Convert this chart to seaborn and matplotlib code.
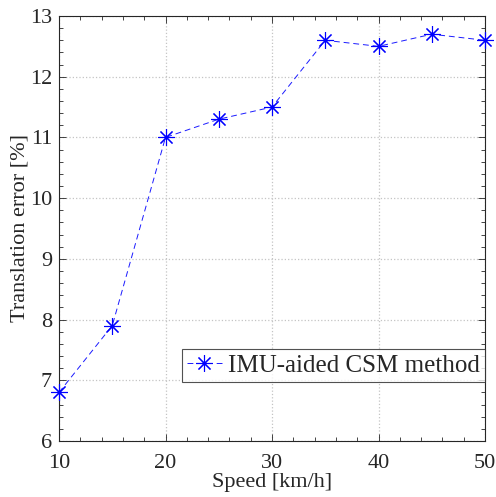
import matplotlib
matplotlib.use("Agg")
import matplotlib.pyplot as plt
import seaborn as sns
import pandas as pd
from matplotlib.ticker import MultipleLocator

speed = [10, 15, 20, 25, 30, 35, 40, 45, 50]
error = [6.8, 7.9, 11.0, 11.3, 11.5, 12.6, 12.5, 12.7, 12.6]
series_name = "IMU-aided CSM method"

sns.set_theme(style="white")
plt.rcParams['font.family'] = ['Liberation Serif', 'DejaVu Serif']

df = pd.DataFrame({"Speed": speed, "Error": error})

fig = plt.figure(figsize=(4.96, 4.97), dpi=100)
ax = fig.add_axes([59/496, 1 - 441/497, (485-59)/496, (441-16)/497])

sns.lineplot(data=df, x="Speed", y="Error", ax=ax, color="#1a1aff",
             linestyle=(0, (6, 4)), linewidth=0.7, marker=(8, 2, 0),
             markersize=12, markeredgewidth=0.8, markeredgecolor="#0000ff",
             label=series_name, clip_on=False, zorder=5)

ax.set_xlim(10, 50)
ax.set_ylim(6, 13)
ax.xaxis.set_major_locator(MultipleLocator(10))
ax.xaxis.set_minor_locator(MultipleLocator(2))
ax.yaxis.set_major_locator(MultipleLocator(1))
ax.yaxis.set_minor_locator(MultipleLocator(0.2))
ax.grid(True, which="major", color="#c4c4c4", linestyle=":", linewidth=0.9)
ax.tick_params(which="both", direction="in", top=True, right=True,
               bottom=True, left=True, colors="#262626", labelsize=16)
ax.tick_params(which="major", length=5, width=0.6)
ax.tick_params(which="minor", length=3, width=0.6)
ax.tick_params(axis="x", pad=9)
ax.tick_params(axis="y", pad=5)
for s in ax.spines.values():
    s.set_color("#262626")
    s.set_linewidth(0.8)

ax.set_xlabel("Speed [km/h]", fontsize=16, color="#262626", labelpad=0)
ax.set_ylabel("Translation error [%]", fontsize=16, color="#262626", labelpad=0)

leg = ax.legend(loc="lower right", bbox_to_anchor=(1.0, 0.139), fontsize=18,
                frameon=True, fancybox=False, edgecolor="#262626",
                borderpad=0.2, handlelength=1.4, handletextpad=0.25,
                borderaxespad=0.0)
leg.get_frame().set_linewidth(0.8)
for t in leg.get_texts():
    t.set_color("#262626")

fig.savefig("out.png", dpi=100)
